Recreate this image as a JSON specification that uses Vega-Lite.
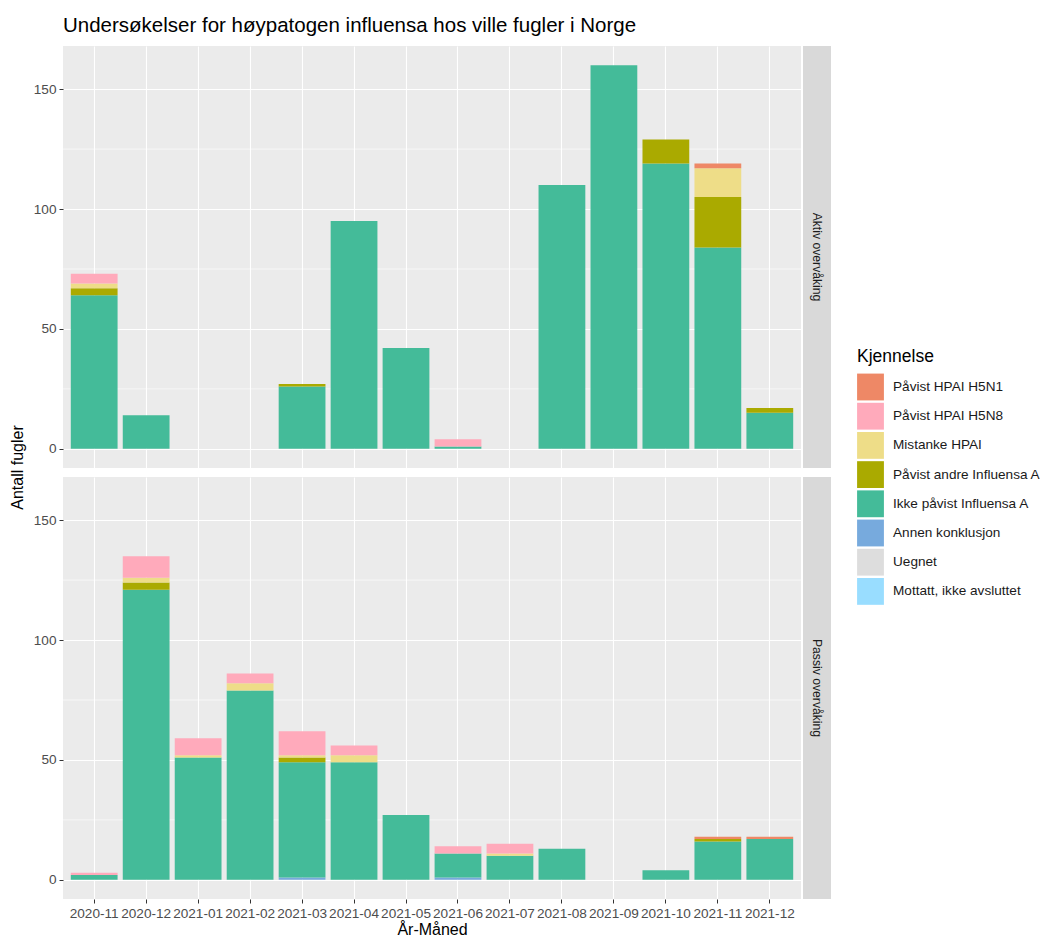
{
  "$schema": "https://vega.github.io/schema/vega-lite/v6.json",
  "padding": {"left": 10, "top": 15, "right": 0, "bottom": 0},
  "background": "white",
  "title": {
    "text": "Undersøkelser for høypatogen influensa hos ville fugler i Norge",
    "anchor": "start",
    "frame": "group",
    "dx": 53,
    "font": "Liberation Sans",
    "fontSize": 20.5,
    "fontWeight": "normal",
    "color": "#000000",
    "offset": 10
  },
  "datasets": {
    "minor": [{"v": 25}, {"v": 75}, {"v": 125}],
    "d": [
      {"panel": "Aktiv overvåking", "month": "2020-11", "k": "Ikke påvist Influensa A", "n": 64},
      {"panel": "Aktiv overvåking", "month": "2020-11", "k": "Påvist andre Influensa A", "n": 3},
      {"panel": "Aktiv overvåking", "month": "2020-11", "k": "Mistanke HPAI", "n": 2},
      {"panel": "Aktiv overvåking", "month": "2020-11", "k": "Påvist HPAI H5N8", "n": 4},
      {"panel": "Aktiv overvåking", "month": "2020-12", "k": "Ikke påvist Influensa A", "n": 14},
      {"panel": "Aktiv overvåking", "month": "2021-03", "k": "Ikke påvist Influensa A", "n": 26},
      {"panel": "Aktiv overvåking", "month": "2021-03", "k": "Påvist andre Influensa A", "n": 1},
      {"panel": "Aktiv overvåking", "month": "2021-04", "k": "Ikke påvist Influensa A", "n": 95},
      {"panel": "Aktiv overvåking", "month": "2021-05", "k": "Ikke påvist Influensa A", "n": 42},
      {"panel": "Aktiv overvåking", "month": "2021-06", "k": "Ikke påvist Influensa A", "n": 1},
      {"panel": "Aktiv overvåking", "month": "2021-06", "k": "Påvist HPAI H5N8", "n": 3},
      {"panel": "Aktiv overvåking", "month": "2021-08", "k": "Ikke påvist Influensa A", "n": 110},
      {"panel": "Aktiv overvåking", "month": "2021-09", "k": "Ikke påvist Influensa A", "n": 160},
      {"panel": "Aktiv overvåking", "month": "2021-10", "k": "Ikke påvist Influensa A", "n": 119},
      {"panel": "Aktiv overvåking", "month": "2021-10", "k": "Påvist andre Influensa A", "n": 10},
      {"panel": "Aktiv overvåking", "month": "2021-11", "k": "Ikke påvist Influensa A", "n": 84},
      {"panel": "Aktiv overvåking", "month": "2021-11", "k": "Påvist andre Influensa A", "n": 21},
      {"panel": "Aktiv overvåking", "month": "2021-11", "k": "Mistanke HPAI", "n": 12},
      {"panel": "Aktiv overvåking", "month": "2021-11", "k": "Påvist HPAI H5N1", "n": 2},
      {"panel": "Aktiv overvåking", "month": "2021-12", "k": "Ikke påvist Influensa A", "n": 15},
      {"panel": "Aktiv overvåking", "month": "2021-12", "k": "Påvist andre Influensa A", "n": 2},
      {"panel": "Passiv overvåking", "month": "2020-11", "k": "Ikke påvist Influensa A", "n": 2},
      {"panel": "Passiv overvåking", "month": "2020-11", "k": "Påvist HPAI H5N8", "n": 1},
      {"panel": "Passiv overvåking", "month": "2020-12", "k": "Ikke påvist Influensa A", "n": 121},
      {"panel": "Passiv overvåking", "month": "2020-12", "k": "Påvist andre Influensa A", "n": 3},
      {"panel": "Passiv overvåking", "month": "2020-12", "k": "Mistanke HPAI", "n": 2},
      {"panel": "Passiv overvåking", "month": "2020-12", "k": "Påvist HPAI H5N8", "n": 9},
      {"panel": "Passiv overvåking", "month": "2021-01", "k": "Ikke påvist Influensa A", "n": 51},
      {"panel": "Passiv overvåking", "month": "2021-01", "k": "Mistanke HPAI", "n": 1},
      {"panel": "Passiv overvåking", "month": "2021-01", "k": "Påvist HPAI H5N8", "n": 7},
      {"panel": "Passiv overvåking", "month": "2021-02", "k": "Ikke påvist Influensa A", "n": 79},
      {"panel": "Passiv overvåking", "month": "2021-02", "k": "Mistanke HPAI", "n": 3},
      {"panel": "Passiv overvåking", "month": "2021-02", "k": "Påvist HPAI H5N8", "n": 4},
      {"panel": "Passiv overvåking", "month": "2021-03", "k": "Annen konklusjon", "n": 1},
      {"panel": "Passiv overvåking", "month": "2021-03", "k": "Ikke påvist Influensa A", "n": 48},
      {"panel": "Passiv overvåking", "month": "2021-03", "k": "Påvist andre Influensa A", "n": 2},
      {"panel": "Passiv overvåking", "month": "2021-03", "k": "Mistanke HPAI", "n": 1},
      {"panel": "Passiv overvåking", "month": "2021-03", "k": "Påvist HPAI H5N8", "n": 10},
      {"panel": "Passiv overvåking", "month": "2021-04", "k": "Ikke påvist Influensa A", "n": 49},
      {"panel": "Passiv overvåking", "month": "2021-04", "k": "Mistanke HPAI", "n": 3},
      {"panel": "Passiv overvåking", "month": "2021-04", "k": "Påvist HPAI H5N8", "n": 4},
      {"panel": "Passiv overvåking", "month": "2021-05", "k": "Ikke påvist Influensa A", "n": 27},
      {"panel": "Passiv overvåking", "month": "2021-06", "k": "Annen konklusjon", "n": 1},
      {"panel": "Passiv overvåking", "month": "2021-06", "k": "Ikke påvist Influensa A", "n": 10},
      {"panel": "Passiv overvåking", "month": "2021-06", "k": "Påvist HPAI H5N8", "n": 3},
      {"panel": "Passiv overvåking", "month": "2021-07", "k": "Ikke påvist Influensa A", "n": 10},
      {"panel": "Passiv overvåking", "month": "2021-07", "k": "Mistanke HPAI", "n": 1},
      {"panel": "Passiv overvåking", "month": "2021-07", "k": "Påvist HPAI H5N8", "n": 4},
      {"panel": "Passiv overvåking", "month": "2021-08", "k": "Ikke påvist Influensa A", "n": 13},
      {"panel": "Passiv overvåking", "month": "2021-10", "k": "Ikke påvist Influensa A", "n": 4},
      {"panel": "Passiv overvåking", "month": "2021-11", "k": "Ikke påvist Influensa A", "n": 16},
      {"panel": "Passiv overvåking", "month": "2021-11", "k": "Påvist andre Influensa A", "n": 1},
      {"panel": "Passiv overvåking", "month": "2021-11", "k": "Påvist HPAI H5N1", "n": 1},
      {"panel": "Passiv overvåking", "month": "2021-12", "k": "Ikke påvist Influensa A", "n": 17},
      {"panel": "Passiv overvåking", "month": "2021-12", "k": "Påvist HPAI H5N1", "n": 1}
    ]
  },
  "hconcat": [
    {
      "width": 16,
      "height": 843,
      "view": {"fill": null, "stroke": null},
      "data": {"values": [{"t": "Antall fugler"}]},
      "mark": {"type": "text", "angle": 270, "font": "Liberation Sans", "fontSize": 16, "color": "#000000", "align": "center", "baseline": "middle"},
      "encoding": {"text": {"field": "t", "type": "nominal"}}
    },
    {
      "vconcat": [
        {
          "hconcat": [
            {
              "width": 738,
              "height": 422,
              "view": {"fill": "#EBEBEB", "stroke": null},
              "layer": [
                {
                  "data": {"name": "minor"},
                  "mark": {"type": "rule", "color": "#FFFFFF", "strokeWidth": 0.6},
                  "encoding": {
                    "y": {"field": "v", "type": "quantitative",
                          "scale": {"domain": [-8, 168], "nice": false, "zero": false},
                          "axis": {"values": [0, 50, 100, 150], "title": null}}
                  }
                },
                {
                  "data": {"name": "d"},
                  "transform": [
                    {"filter": "datum.panel === 'Aktiv overvåking'"},
                    {"calculate": "indexof(['Påvist HPAI H5N1','Påvist HPAI H5N8','Mistanke HPAI','Påvist andre Influensa A','Ikke påvist Influensa A','Annen konklusjon','Uegnet','Mottatt, ikke avsluttet'], datum.k)", "as": "ord"}
                  ],
                  "mark": {"type": "bar"},
                  "encoding": {
                    "x": {
                      "field": "month", "type": "ordinal",
                      "scale": {"domain": ["2020-11","2020-12","2021-01","2021-02","2021-03","2021-04","2021-05","2021-06","2021-07","2021-08","2021-09","2021-10","2021-11","2021-12"], "paddingInner": 0.1, "paddingOuter": 0.15},
                      "axis": {"labels": false, "ticks": false, "domain": false, "title": null, "grid": true, "bandPosition": 0.5}
                    },
                    "y": {
                      "field": "n", "type": "quantitative", "stack": "zero",
                      "scale": {"domain": [-8, 168], "nice": false, "zero": false},
                      "axis": {"values": [0, 50, 100, 150], "title": null}
                    },
                    "color": {
                      "field": "k", "type": "nominal",
                      "scale": {
                        "domain": ["Påvist HPAI H5N1","Påvist HPAI H5N8","Mistanke HPAI","Påvist andre Influensa A","Ikke påvist Influensa A","Annen konklusjon","Uegnet","Mottatt, ikke avsluttet"],
                        "range": ["#EE8866","#FFAABB","#EEDD88","#AAAA00","#44BB99","#77AADD","#DDDDDD","#99DDFF"]
                      },
                      "legend": {"title": "Kjennelse", "orient": "none", "legendX": 847, "legendY": 302}
                    },
                    "order": {"field": "ord", "type": "quantitative", "sort": "descending"}
                  }
                }
              ]
            },
            {
              "width": 28,
              "height": 422,
              "view": {"fill": "#D9D9D9", "stroke": null},
              "data": {"values": [{"label": "Aktiv overvåking"}]},
              "mark": {"type": "text", "angle": 90, "font": "Liberation Sans", "fontSize": 12.2, "color": "#1A1A1A", "align": "center", "baseline": "middle"},
              "encoding": {"text": {"field": "label", "type": "nominal"}}
            }
          ],
          "spacing": 1
        },
        {
          "hconcat": [
            {
              "width": 738,
              "height": 422,
              "view": {"fill": "#EBEBEB", "stroke": null},
              "layer": [
                {
                  "data": {"name": "minor"},
                  "mark": {"type": "rule", "color": "#FFFFFF", "strokeWidth": 0.6},
                  "encoding": {
                    "y": {"field": "v", "type": "quantitative",
                          "scale": {"domain": [-8, 168], "nice": false, "zero": false},
                          "axis": {"values": [0, 50, 100, 150], "title": null}}
                  }
                },
                {
                  "data": {"name": "d"},
                  "transform": [
                    {"filter": "datum.panel === 'Passiv overvåking'"},
                    {"calculate": "indexof(['Påvist HPAI H5N1','Påvist HPAI H5N8','Mistanke HPAI','Påvist andre Influensa A','Ikke påvist Influensa A','Annen konklusjon','Uegnet','Mottatt, ikke avsluttet'], datum.k)", "as": "ord"}
                  ],
                  "mark": {"type": "bar"},
                  "encoding": {
                    "x": {
                      "field": "month", "type": "ordinal",
                      "scale": {"domain": ["2020-11","2020-12","2021-01","2021-02","2021-03","2021-04","2021-05","2021-06","2021-07","2021-08","2021-09","2021-10","2021-11","2021-12"], "paddingInner": 0.1, "paddingOuter": 0.15},
                      "axis": {"title": "År-Måned", "labelAngle": 0, "grid": true, "bandPosition": 0.5, "titlePadding": 2}
                    },
                    "y": {
                      "field": "n", "type": "quantitative", "stack": "zero",
                      "scale": {"domain": [-8, 168], "nice": false, "zero": false},
                      "axis": {"values": [0, 50, 100, 150], "title": null}
                    },
                    "color": {
                      "field": "k", "type": "nominal",
                      "scale": {
                        "domain": ["Påvist HPAI H5N1","Påvist HPAI H5N8","Mistanke HPAI","Påvist andre Influensa A","Ikke påvist Influensa A","Annen konklusjon","Uegnet","Mottatt, ikke avsluttet"],
                        "range": ["#EE8866","#FFAABB","#EEDD88","#AAAA00","#44BB99","#77AADD","#DDDDDD","#99DDFF"]
                      },
                      "legend": {"title": "Kjennelse", "orient": "none", "legendX": 847, "legendY": 302}
                    },
                    "order": {"field": "ord", "type": "quantitative", "sort": "descending"}
                  }
                }
              ]
            },
            {
              "width": 28,
              "height": 422,
              "view": {"fill": "#D9D9D9", "stroke": null},
              "data": {"values": [{"label": "Passiv overvåking"}]},
              "mark": {"type": "text", "angle": 90, "font": "Liberation Sans", "fontSize": 12.2, "color": "#1A1A1A", "align": "center", "baseline": "middle"},
              "encoding": {"text": {"field": "label", "type": "nominal"}}
            }
          ],
          "spacing": 1
        }
      ],
      "spacing": 9
    }
  ],
  "spacing": 7,
  "config": {
    "font": "Liberation Sans",
    "view": {"stroke": null},
    "axis": {
      "labelFont": "Liberation Sans",
      "labelFontSize": 13.6,
      "labelColor": "#4D4D4D",
      "tickColor": "#333333",
      "tickSize": 4,
      "tickWidth": 1,
      "labelPadding": 3,
      "domain": false,
      "gridColor": "#FFFFFF",
      "gridWidth": 1.1,
      "gridOpacity": 1,
      "titleFont": "Liberation Sans",
      "titleFontSize": 16,
      "titleFontWeight": "normal",
      "titleColor": "#000000"
    },
    "legend": {
      "titleFont": "Liberation Sans",
      "titleFontSize": 17.5,
      "titleFontWeight": "normal",
      "titleColor": "#000000",
      "titlePadding": 8,
      "labelFont": "Liberation Sans",
      "labelFontSize": 13.6,
      "labelColor": "#1A1A1A",
      "labelOffset": 9,
      "symbolType": "square",
      "symbolSize": 720,
      "symbolStrokeWidth": 0,
      "symbolOpacity": 1,
      "rowPadding": 2.2,
      "labelLimit": 300
    }
  }
}
